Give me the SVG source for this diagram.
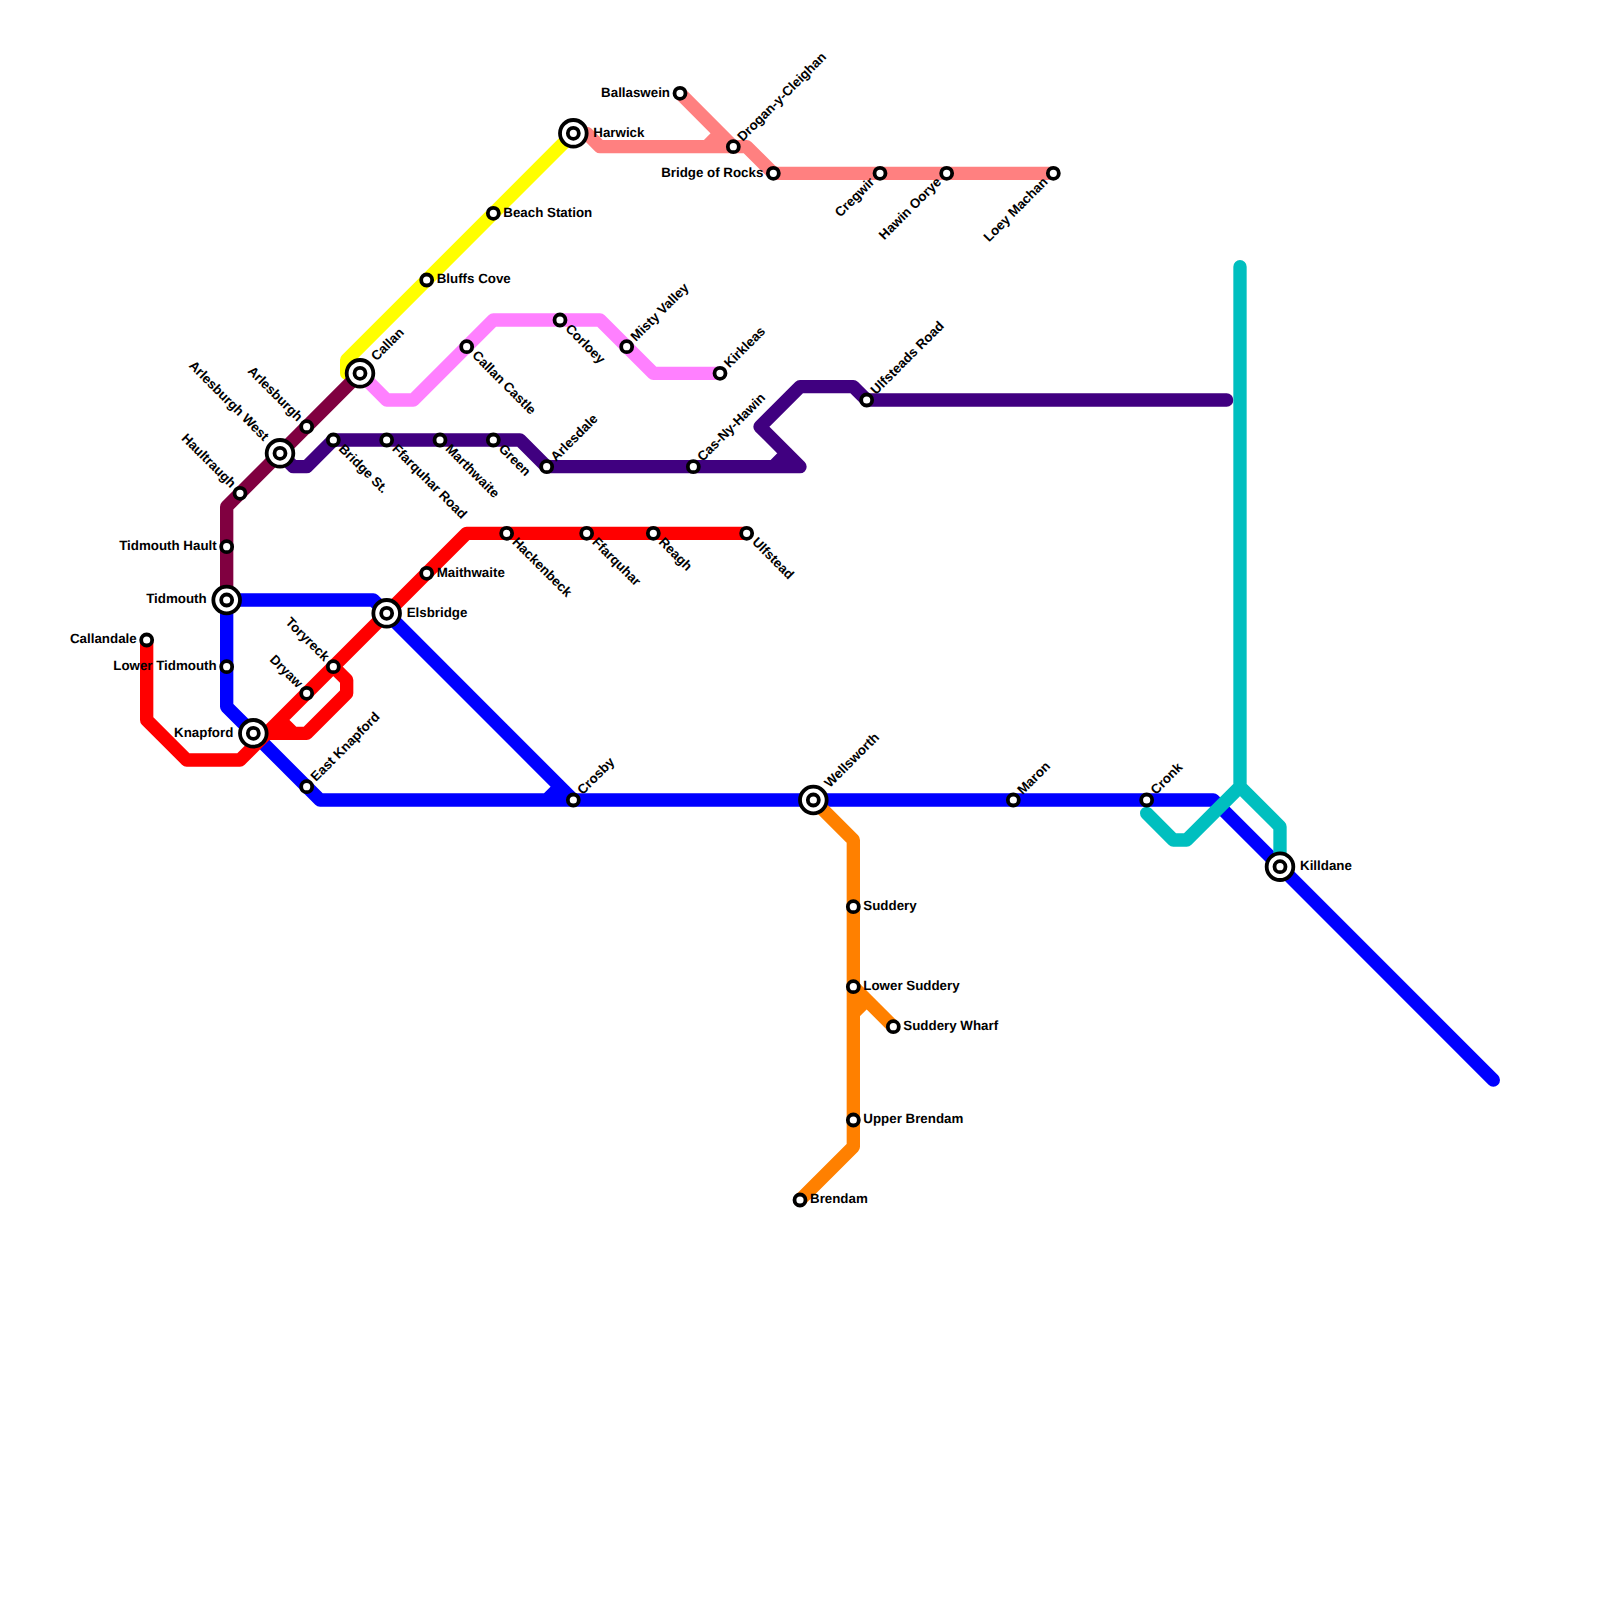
<svg xmlns="http://www.w3.org/2000/svg" width="1600" height="1600" viewBox="0 0 1600 1600">
<style>
.l{fill:none;stroke-width:13.33;stroke-linecap:round;stroke-linejoin:round}
.s{fill:#fff;stroke:#000;stroke-width:3.8}
text{font-family:"Liberation Sans",Arial,sans-serif;font-weight:bold;font-size:13.33px;fill:#000;text-rendering:geometricPrecision}
.e{text-anchor:end}
</style>
<rect width="1600" height="1600" fill="#fff"/>
<g id="connectors">
<g class="l" stroke="#0000ff"><path d="M226.67 600H373.33L386.67 613.33L573.33 800M226.67 600V706.67L320 800H1213.33L1493.33 1080M546.67 800L560 786.67"/></g>
<path class="l" stroke="#ff0000" d="M146.67 640V720L186.67 760H240L266.67 733.33L466.67 533.33H746.67M333.33 666.67L346.67 680V693.33L306.67 733.33H253.33M280 720L293.33 733.33H306.67"/>
<path class="l" stroke="#400080" d="M280 453.33L293.33 466.67H306.67L333.33 440H520L546.67 466.67H800L760 426.67L800 386.67H853.33L866.67 400H1226.67M773.33 466.67L786.67 453.33"/>
<path class="l" stroke="#ff8000" d="M813.33 800L853.33 840V1146.67L800 1200M853.33 986.67L893.33 1026.67M853.33 1013.33L866.67 1000"/>
<path class="l" stroke="#00bfbf" d="M1240 266.67V786.67L1186.67 840H1173.33L1146.67 813.33M1240 786.67L1280 826.67V866.67"/>
<path class="l" stroke="#ff8080" d="M573.33 133.33H586.67L600 146.67H746.67L773.33 173.33H1053.33M680 93.33L733.33 146.67M706.67 146.67L720 133.33"/>
<path class="l" stroke="#ff80ff" d="M360 373.33L386.67 400H413.33L493.33 320H600L653.33 373.33H720"/>
<path class="l" stroke="#ffff00" d="M573.33 133.33L346.67 360V373.33H360"/>
<path class="l" stroke="#800040" d="M360 373.33L226.67 506.67V600"/>
</g>
<g id="n-harwick" transform="translate(573.33 133.33)"><circle class="s" r="13.33"/><circle class="s" r="5.5"/><text x="20" y="3.33">Harwick</text></g>
<g id="n-beach-station" transform="translate(493.33 213.33)"><circle class="s" r="5.5"/><text x="10" y="3.33">Beach Station</text></g>
<g id="n-bluffs-cove" transform="translate(426.67 280)"><circle class="s" r="5.5"/><text x="10" y="3.33">Bluffs Cove</text></g>
<g id="n-maithwaite" transform="translate(426.67 573.33)"><circle class="s" r="5.5"/><text x="10" y="3.33">Maithwaite</text></g>
<g id="n-elsbridge" transform="translate(386.67 613.33)"><circle class="s" r="13.33"/><circle class="s" r="5.5"/><text x="20" y="3.33">Elsbridge</text></g>
<g id="n-suddery" transform="translate(853.33 906.67)"><circle class="s" r="5.5"/><text x="10" y="3.33">Suddery</text></g>
<g id="n-lower-suddery" transform="translate(853.33 986.67)"><circle class="s" r="5.5"/><text x="10" y="3.33">Lower Suddery</text></g>
<g id="n-suddery-wharf" transform="translate(893.33 1026.67)"><circle class="s" r="5.5"/><text x="10" y="3.33">Suddery Wharf</text></g>
<g id="n-upper-brendam" transform="translate(853.33 1120)"><circle class="s" r="5.5"/><text x="10" y="3.33">Upper Brendam</text></g>
<g id="n-brendam" transform="translate(800 1200)"><circle class="s" r="5.5"/><text x="10" y="3.33">Brendam</text></g>
<g id="n-killdane" transform="translate(1280 866.67)"><circle class="s" r="13.33"/><circle class="s" r="5.5"/><text x="20" y="3.33">Killdane</text></g>
<g id="n-ballaswein" transform="translate(680 93.33)"><circle class="s" r="5.5"/><text class="e" x="-10" y="3.33">Ballaswein</text></g>
<g id="n-bridge-of-rocks" transform="translate(773.33 173.33)"><circle class="s" r="5.5"/><text class="e" x="-10" y="3.33">Bridge of Rocks</text></g>
<g id="n-tidmouth-hault" transform="translate(226.67 546.67)"><circle class="s" r="5.5"/><text class="e" x="-10" y="3.33">Tidmouth Hault</text></g>
<g id="n-tidmouth" transform="translate(226.67 600)"><circle class="s" r="13.33"/><circle class="s" r="5.5"/><text class="e" x="-20" y="3.33">Tidmouth</text></g>
<g id="n-callandale" transform="translate(146.67 640)"><circle class="s" r="5.5"/><text class="e" x="-10" y="3.33">Callandale</text></g>
<g id="n-lower-tidmouth" transform="translate(226.67 666.67)"><circle class="s" r="5.5"/><text class="e" x="-10" y="3.33">Lower Tidmouth</text></g>
<g id="n-knapford" transform="translate(253.33 733.33)"><circle class="s" r="13.33"/><circle class="s" r="5.5"/><text class="e" x="-20" y="3.33">Knapford</text></g>
<g id="n-callan" transform="translate(360 373.33)"><circle class="s" r="13.33"/><circle class="s" r="5.5"/><text transform="rotate(-45)" x="20" y="3.33">Callan</text></g>
<g id="n-misty-valley" transform="translate(626.67 346.67)"><circle class="s" r="5.5"/><text transform="rotate(-45)" x="10" y="3.33">Misty Valley</text></g>
<g id="n-kirkleas" transform="translate(720 373.33)"><circle class="s" r="5.5"/><text transform="rotate(-45)" x="10" y="3.33">Kirkleas</text></g>
<g id="n-drogan" transform="translate(733.33 146.67)"><circle class="s" r="5.5"/><text transform="rotate(-45)" x="10" y="3.33">Drogan-y-Cleighan</text></g>
<g id="n-arlesdale" transform="translate(546.67 466.67)"><circle class="s" r="5.5"/><text transform="rotate(-45)" x="10" y="3.33">Arlesdale</text></g>
<g id="n-cas-ny-hawin" transform="translate(693.33 466.67)"><circle class="s" r="5.5"/><text transform="rotate(-45)" x="10" y="3.33">Cas-Ny-Hawin</text></g>
<g id="n-ulfsteads-road" transform="translate(866.67 400)"><circle class="s" r="5.5"/><text transform="rotate(-45)" x="10" y="3.33">Ulfsteads Road</text></g>
<g id="n-wellsworth" transform="translate(813.33 800)"><circle class="s" r="13.33"/><circle class="s" r="5.5"/><text transform="rotate(-45)" x="20" y="3.33">Wellsworth</text></g>
<g id="n-maron" transform="translate(1013.33 800)"><circle class="s" r="5.5"/><text transform="rotate(-45)" x="10" y="3.33">Maron</text></g>
<g id="n-cronk" transform="translate(1146.67 800)"><circle class="s" r="5.5"/><text transform="rotate(-45)" x="10" y="3.33">Cronk</text></g>
<g id="n-crosby" transform="translate(573.33 800)"><circle class="s" r="5.5"/><text transform="rotate(-45)" x="10" y="3.33">Crosby</text></g>
<g id="n-east-knapford" transform="translate(306.67 786.67)"><circle class="s" r="5.5"/><text transform="rotate(-45)" x="10" y="3.33">East Knapford</text></g>
<g id="n-callan-castle" transform="translate(466.67 346.67)"><circle class="s" r="5.5"/><text transform="rotate(45)" x="10" y="3.33">Callan Castle</text></g>
<g id="n-corloey" transform="translate(560 320)"><circle class="s" r="5.5"/><text transform="rotate(45)" x="10" y="3.33">Corloey</text></g>
<g id="n-bridge-st" transform="translate(333.33 440)"><circle class="s" r="5.5"/><text transform="rotate(45)" x="10" y="3.33">Bridge St.</text></g>
<g id="n-ffarquhar-road" transform="translate(386.67 440)"><circle class="s" r="5.5"/><text transform="rotate(45)" x="10" y="3.33">Ffarquhar Road</text></g>
<g id="n-marthwaite" transform="translate(440 440)"><circle class="s" r="5.5"/><text transform="rotate(45)" x="10" y="3.33">Marthwaite</text></g>
<g id="n-green" transform="translate(493.33 440)"><circle class="s" r="5.5"/><text transform="rotate(45)" x="10" y="3.33">Green</text></g>
<g id="n-hackenbeck" transform="translate(506.67 533.33)"><circle class="s" r="5.5"/><text transform="rotate(45)" x="10" y="3.33">Hackenbeck</text></g>
<g id="n-ffarquhar" transform="translate(586.67 533.33)"><circle class="s" r="5.5"/><text transform="rotate(45)" x="10" y="3.33">Ffarquhar</text></g>
<g id="n-reagh" transform="translate(653.33 533.33)"><circle class="s" r="5.5"/><text transform="rotate(45)" x="10" y="3.33">Reagh</text></g>
<g id="n-ulfstead" transform="translate(746.67 533.33)"><circle class="s" r="5.5"/><text transform="rotate(45)" x="10" y="3.33">Ulfstead</text></g>
<g id="n-arlesburgh" transform="translate(306.67 426.67)"><circle class="s" r="5.5"/><text class="e" transform="rotate(45)" x="-10" y="3.33">Arlesburgh</text></g>
<g id="n-arlesburgh-west" transform="translate(280 453.33)"><circle class="s" r="13.33"/><circle class="s" r="5.5"/><text class="e" transform="rotate(45)" x="-20" y="3.33">Arlesburgh West</text></g>
<g id="n-haultraugh" transform="translate(240 493.33)"><circle class="s" r="5.5"/><text class="e" transform="rotate(45)" x="-10" y="3.33">Haultraugh</text></g>
<g id="n-toryreck" transform="translate(333.33 666.67)"><circle class="s" r="5.5"/><text class="e" transform="rotate(45)" x="-10" y="3.33">Toryreck</text></g>
<g id="n-dryaw" transform="translate(306.67 693.33)"><circle class="s" r="5.5"/><text class="e" transform="rotate(45)" x="-10" y="3.33">Dryaw</text></g>
<g id="n-cregwir" transform="translate(880 173.33)"><circle class="s" r="5.5"/><text class="e" transform="rotate(-45)" x="-10" y="3.33">Cregwir</text></g>
<g id="n-hawin-oorye" transform="translate(946.67 173.33)"><circle class="s" r="5.5"/><text class="e" transform="rotate(-45)" x="-10" y="3.33">Hawin Oorye</text></g>
<g id="n-loey-machan" transform="translate(1053.33 173.33)"><circle class="s" r="5.5"/><text class="e" transform="rotate(-45)" x="-10" y="3.33">Loey Machan</text></g>
</svg>
